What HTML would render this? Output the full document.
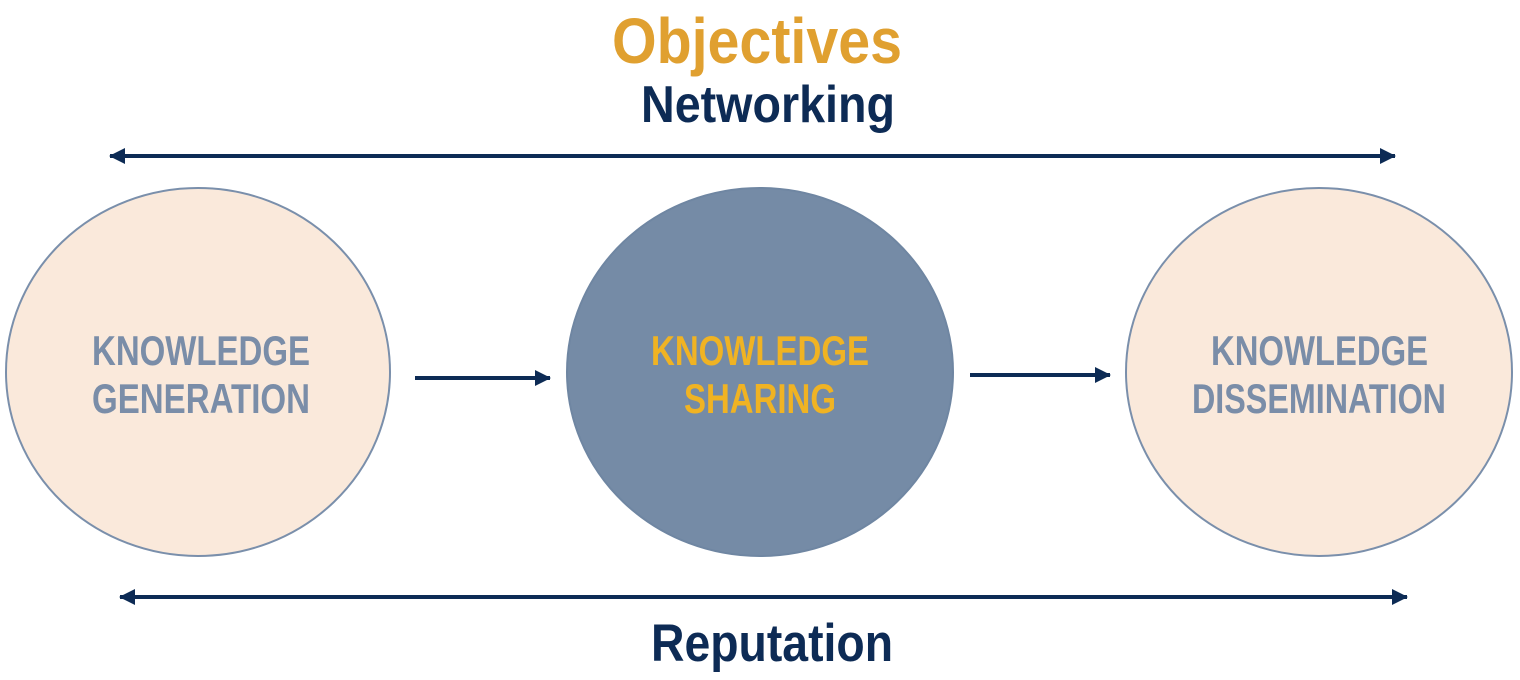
<!DOCTYPE html>
<html><head><meta charset="utf-8"><style>html,body{margin:0;padding:0;background:#fff}svg{display:block}</style></head>
<body>
<svg width="1520" height="680" viewBox="0 0 1520 680" xmlns="http://www.w3.org/2000/svg" font-family="Liberation Sans, Arial, sans-serif" font-weight="bold">
<defs>
<marker id="h" markerWidth="10" markerHeight="10" refX="9" refY="5" orient="auto-start-reverse" markerUnits="userSpaceOnUse"><path d="M0,0 L10,5 L0,10 z" fill="#0D2B55"/></marker>
<marker id="h2" markerWidth="16" markerHeight="16" refX="15" refY="8" orient="auto-start-reverse" markerUnits="userSpaceOnUse"><path d="M0,0 L16,8 L0,16 z" fill="#0D2B55"/></marker>
</defs>
<text x="612" y="63" font-size="64" fill="#E0A030" textLength="290" lengthAdjust="spacingAndGlyphs">Objectives</text>
<text x="641" y="122" font-size="52" fill="#0D2B55" textLength="254" lengthAdjust="spacingAndGlyphs">Networking</text>
<line x1="110" y1="156" x2="1395" y2="156" stroke="#0D2B55" stroke-width="4" marker-start="url(#h2)" marker-end="url(#h2)"/>
<line x1="120" y1="597" x2="1407" y2="597" stroke="#0D2B55" stroke-width="4" marker-start="url(#h2)" marker-end="url(#h2)"/>
<text x="651" y="661" font-size="53" fill="#0D2B55" textLength="242" lengthAdjust="spacingAndGlyphs">Reputation</text>
<ellipse cx="198" cy="372" rx="192" ry="184" fill="#FAE9DB" stroke="#7A8FAB" stroke-width="2"/>
<ellipse cx="760" cy="372" rx="193" ry="184" fill="#758BA6" stroke="#6F86A2" stroke-width="2"/>
<ellipse cx="1319" cy="372" rx="193" ry="184" fill="#FAE9DB" stroke="#7A8FAB" stroke-width="2"/>
<line x1="415" y1="378" x2="550" y2="378" stroke="#0D2B55" stroke-width="4" marker-end="url(#h2)"/>
<line x1="970" y1="375" x2="1110" y2="375" stroke="#0D2B55" stroke-width="4" marker-end="url(#h2)"/>
<g font-size="42" fill="#7A8DA8">
<text x="92" y="365" textLength="218" lengthAdjust="spacingAndGlyphs">KNOWLEDGE</text>
<text x="92" y="413" textLength="218" lengthAdjust="spacingAndGlyphs">GENERATION</text>
<text x="1211" y="365" textLength="217" lengthAdjust="spacingAndGlyphs">KNOWLEDGE</text>
<text x="1192" y="413" textLength="254" lengthAdjust="spacingAndGlyphs">DISSEMINATION</text>
</g>
<g font-size="42" fill="#F0B323">
<text x="651" y="365" textLength="218" lengthAdjust="spacingAndGlyphs">KNOWLEDGE</text>
<text x="684" y="413" textLength="152" lengthAdjust="spacingAndGlyphs">SHARING</text>
</g>
</svg>
</body></html>
